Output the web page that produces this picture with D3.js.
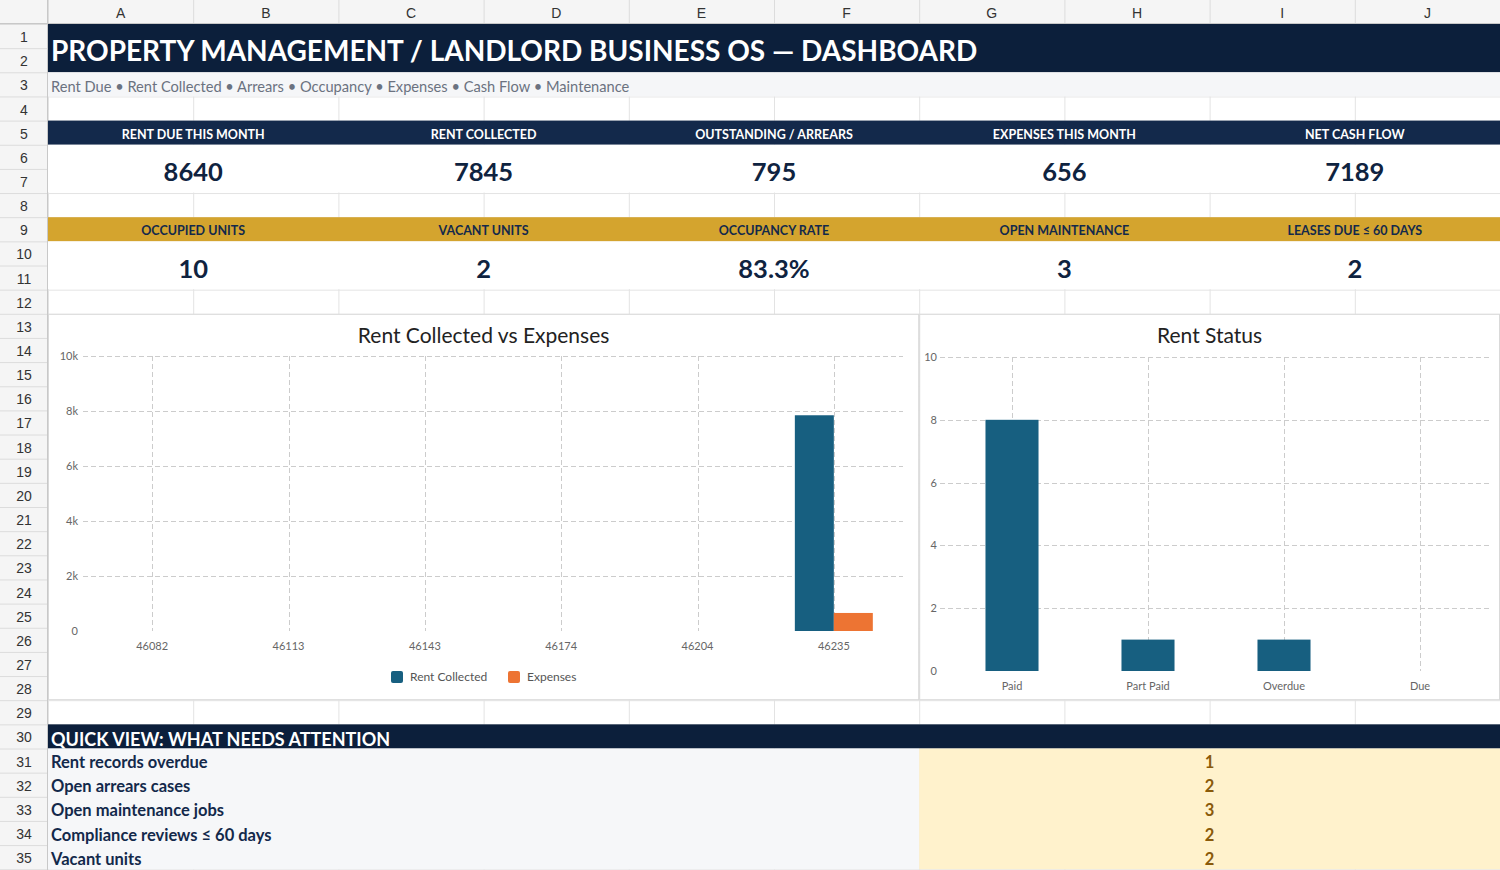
<!DOCTYPE html>
<html><head><meta charset="utf-8">
<script src="https://cdn.jsdelivr.net/npm/d3@7/dist/d3.min.js"></script>
<style>
html,body{margin:0;padding:0;background:#fff;}
svg{display:block;}
text{font-family:Lato,"Open Sans",sans-serif;}
</style></head>
<body>
<svg id="s" width="1500" height="870"></svg>
<script>
// ---------- DATA ----------
const columnLetters = ["A","B","C","D","E","F","G","H","I","J"];
const titleText = "PROPERTY MANAGEMENT / LANDLORD BUSINESS OS — DASHBOARD";
const subtitleText = "Rent Due • Rent Collected • Arrears • Occupancy • Expenses • Cash Flow • Maintenance";
const kpiLabels1 = ["RENT DUE THIS MONTH","RENT COLLECTED","OUTSTANDING / ARREARS","EXPENSES THIS MONTH","NET CASH FLOW"];
const kpiValues1 = ["8640","7845","795","656","7189"];
const kpiLabels2 = ["OCCUPIED UNITS","VACANT UNITS","OCCUPANCY RATE","OPEN MAINTENANCE","LEASES DUE ≤ 60 DAYS"];
const kpiValues2 = ["10","2","83.3%","3","2"];
const months = ["46082","46113","46143","46174","46204","46235"];
const rentCollected = [0,0,0,0,0,7845];
const expenses = [0,0,0,0,0,656];
const seriesNames = ["Rent Collected","Expenses"];
const yTicks1 = [0,2000,4000,6000,8000,10000];
const statusCats = ["Paid","Part Paid","Overdue","Due"];
const statusCounts = [8,1,1,0];
const yTicks2 = [0,2,4,6,8,10];
const quickTitle = "QUICK VIEW: WHAT NEEDS ATTENTION";
const attentionLabels = ["Rent records overdue","Open arrears cases","Open maintenance jobs","Compliance reviews ≤ 60 days","Vacant units"];
const attentionValues = [1,2,3,2,2];

// ---------- LAYOUT ----------
const svg = d3.select("#s");
const HDR_W = 48, HDR_H = 24, COL_W = (1500-48)/10, ROW_H = 24.15;
const cx = c => HDR_W + c*COL_W;
const ry = r => HDR_H + (r-1)*ROW_H;
const NAVY = "#0c1f3b", NAVY2 = "#13294b", GOLD = "#d4a42e", BLUE = "#175f80", ORANGE = "#ed7433";

svg.append("rect").attr("width",1500).attr("height",870).attr("fill","#fff");

// cell grid
const grid = svg.append("g").attr("stroke","#e3e3e3").attr("stroke-width",1);
for(let r=1;r<=36;r++) grid.append("line").attr("x1",HDR_W).attr("x2",1500).attr("y1",ry(r)+0.5).attr("y2",ry(r)+0.5);
for(let c=0;c<=10;c++) grid.append("line").attr("x1",cx(c)+0.5).attr("x2",cx(c)+0.5).attr("y1",HDR_H).attr("y2",870);

// headers
svg.append("rect").attr("x",0).attr("y",0).attr("width",1500).attr("height",HDR_H).attr("fill","#f5f5f5");
svg.append("rect").attr("x",0).attr("y",0).attr("width",HDR_W).attr("height",870).attr("fill","#f5f5f5");
const hg = svg.append("g").attr("stroke","#dcdcdc");
for(let c=0;c<=10;c++) hg.append("line").attr("x1",cx(c)+0.5).attr("x2",cx(c)+0.5).attr("y1",0).attr("y2",HDR_H);
for(let r=1;r<=36;r++) hg.append("line").attr("x1",0).attr("x2",HDR_W).attr("y1",ry(r)+0.5).attr("y2",ry(r)+0.5);
hg.append("line").attr("x1",0).attr("x2",1500).attr("y1",HDR_H-0.5).attr("y2",HDR_H-0.5).attr("stroke","#c8c8c8");
hg.append("line").attr("x1",HDR_W-0.5).attr("x2",HDR_W-0.5).attr("y1",0).attr("y2",870).attr("stroke","#c8c8c8");
svg.append("g").selectAll("text").data(columnLetters).join("text")
  .attr("x",(d,i)=>cx(i)+COL_W/2).attr("y",18).attr("text-anchor","middle")
  .style("font-family","'Liberation Sans',Arial,sans-serif").style("font-size","14px").attr("fill","#333").text(d=>d);
svg.append("g").selectAll("text").data(d3.range(1,36)).join("text")
  .attr("x",24).attr("y",r=>ry(r)+ROW_H/2+6).attr("text-anchor","middle")
  .style("font-family","'Liberation Sans',Arial,sans-serif").style("font-size","14px").attr("fill","#333").text(d=>d);

function block(c0,c1,r0,r1,fill){
  return svg.append("rect").attr("x",cx(c0)).attr("y",ry(r0)).attr("width",cx(c1)-cx(c0)).attr("height",ry(r1+1)-ry(r0)).attr("fill",fill);
}
// title
block(0,10,1,2,NAVY);
svg.append("text").attr("x",51).attr("y",61).attr("fill","#fff").style("font-size","28px").style("font-weight","700").text(titleText);
// subtitle
block(0,10,3,3,"#f5f6f8");
svg.append("text").attr("x",51).attr("y",91.5).attr("fill","#6b7280").style("font-size","14.65px").text(subtitleText);

// KPI rows
function kpiRow(r,labels,values,bg,labelColor){
  block(0,10,r,r,bg);
  block(0,10,r+1,r+2,"#fff").attr("height",ry(r+3)-ry(r+1)-0.5);
  labels.forEach((l,i)=>{
    const x = cx(i*2)+COL_W;
    svg.append("text").attr("x",x).attr("y",ry(r)+ROW_H/2+6).attr("text-anchor","middle")
      .attr("fill",labelColor).style("font-size","12.5px").style("font-weight","700").text(l);
    svg.append("text").attr("x",x).attr("y",ry(r+1)+ROW_H+12.5).attr("text-anchor","middle")
      .attr("fill","#0f2340").style("font-size","25.5px").style("font-weight","700").text(values[i]);
  });
}
kpiRow(5,kpiLabels1,kpiValues1,NAVY2,"#fff");
kpiRow(9,kpiLabels2,kpiValues2,GOLD,"#13294b");

// ---------- CHART 1 ----------
function chartFrame(c0,c1,title){
  const x0=cx(c0), x1=cx(c1), y0=ry(13), y1=ry(29);
  svg.append("rect").attr("x",x0+0.5).attr("y",y0+0.5).attr("width",x1-x0-1).attr("height",y1-y0-1)
    .attr("fill","#fff").attr("stroke","#d9d9d9");
  svg.append("text").attr("x",(x0+x1)/2).attr("y",342.5).attr("text-anchor","middle")
    .attr("fill","#222").style("font-size","21px").text(title);
}
chartFrame(0,6,"Rent Collected vs Expenses");
chartFrame(6,10,"Rent Status");

function styleAxis(g){
  g.select(".domain").remove();
  g.selectAll(".tick line").remove();
  g.selectAll("text").attr("fill","#666").style("font-size","11px").style("font-family","Lato,sans-serif");
}
function gridY(y,ticks,xa,xb){
  svg.append("g").selectAll("line").data(ticks.filter(t=>t!==0)).join("line")
    .attr("x1",xa).attr("x2",xb).attr("y1",d=>Math.round(y(d))+0.5).attr("y2",d=>Math.round(y(d))+0.5)
    .attr("stroke","#cccccc").attr("stroke-dasharray","5,3");
}
function gridX(x,cats,ya,yb){
  svg.append("g").selectAll("line").data(cats).join("line")
    .attr("x1",d=>Math.round(x(d)+x.bandwidth()/2)+0.5).attr("x2",d=>Math.round(x(d)+x.bandwidth()/2)+0.5)
    .attr("y1",ya).attr("y2",yb).attr("stroke","#cccccc").attr("stroke-dasharray","5,3");
}

{
  const L=84, R=902, T=356, B=631;
  const x = d3.scaleBand().domain(months).range([L,R]).paddingInner(0.428).paddingOuter(0.214);
  const xs = d3.scaleBand().domain(seriesNames).range([0,x.bandwidth()]);
  const y = d3.scaleLinear().domain([0,10000]).range([B,T]);
  gridY(y,yTicks1,83,903);
  gridX(x,months,T,B);
  const ga = svg.append("g").attr("transform",`translate(${L},0)`)
    .call(d3.axisLeft(y).tickValues(yTicks1).tickFormat(d3.format("~s")).tickSize(0).tickPadding(6));
  styleAxis(ga);
  const gx = svg.append("g").attr("transform",`translate(0,${B})`)
    .call(d3.axisBottom(x).tickSize(0).tickPadding(11));
  styleAxis(gx);
  const rows = months.map((m,i)=>({m, vals:[rentCollected[i],expenses[i]]}));
  const colors = d3.scaleOrdinal().domain(seriesNames).range([BLUE,ORANGE]);
  svg.append("g").selectAll("g").data(rows).join("g")
    .attr("transform",d=>`translate(${x(d.m)},0)`)
    .selectAll("rect").data(d=>d.vals.map((v,j)=>({s:seriesNames[j],v}))).join("rect")
    .attr("x",d=>xs(d.s)).attr("width",xs.bandwidth())
    .attr("y",d=>y(d.v)).attr("height",d=>B-y(d.v))
    .attr("fill",d=>colors(d.s));
  // legend
  const lg = svg.append("g");
  const legendX = [391,508];
  seriesNames.forEach((s,i)=>{
    lg.append("rect").attr("x",legendX[i]).attr("y",671).attr("width",12).attr("height",12).attr("rx",2).attr("fill",colors(s));
    lg.append("text").attr("x",legendX[i]+19).attr("y",681).attr("fill","#555").style("font-size","12px").text(s);
  });
}

// ---------- CHART 2 ----------
{
  const L=944, R=1488, T=357, B=671;
  const x = d3.scaleBand().domain(statusCats).range([L,R]).paddingInner(0.61).paddingOuter(0.305);
  const y = d3.scaleLinear().domain([0,10]).range([B,T]);
  gridY(y,yTicks2,940,1490);
  gridX(x,statusCats,T,B);
  const ga = svg.append("g").attr("transform",`translate(${L},0)`)
    .call(d3.axisLeft(y).tickValues(yTicks2).tickSize(0).tickPadding(7));
  styleAxis(ga);
  const gx = svg.append("g").attr("transform",`translate(0,${B})`)
    .call(d3.axisBottom(x).tickSize(0).tickPadding(11));
  styleAxis(gx);
  svg.append("g").selectAll("rect").data(statusCats.map((c,i)=>({c,v:statusCounts[i]}))).join("rect")
    .attr("x",d=>x(d.c)).attr("width",x.bandwidth())
    .attr("y",d=>y(d.v)).attr("height",d=>B-y(d.v)).attr("fill",BLUE);
}

// ---------- QUICK VIEW ----------
block(0,10,30,30,NAVY);
svg.append("text").attr("x",51).attr("y",746).attr("fill","#fff").style("font-size","18px").style("font-weight","700").text(quickTitle);
block(0,6,31,35,"#f6f7f9");
block(6,10,31,35,"#fff2cc");
attentionLabels.forEach((l,i)=>{
  const yy = ry(31+i)+ROW_H/2+7.5;
  svg.append("text").attr("x",51).attr("y",yy).attr("fill","#13294b").style("font-size","16.5px").style("font-weight","700").text(l);
  svg.append("text").attr("x",cx(8)).attr("y",yy).attr("text-anchor","middle").attr("fill","#8a5a0a").style("font-size","16.5px").style("font-weight","700").text(attentionValues[i]);
});
</script>
</body></html>
